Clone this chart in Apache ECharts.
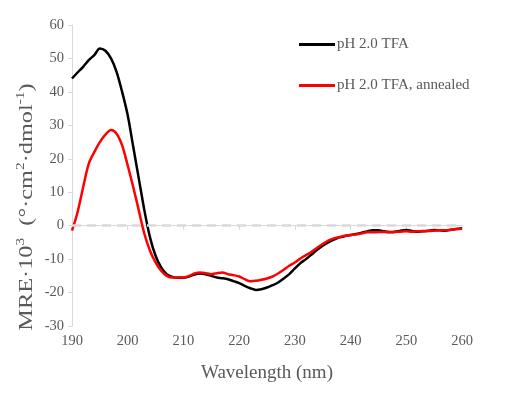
<!DOCTYPE html>
<html>
<head>
<meta charset="utf-8">
<script src="https://cdn.jsdelivr.net/npm/echarts@6/dist/echarts.min.js"></script>
<style>
  html, body { margin: 0; padding: 0; background: #fff; }
  #chart-container { width: 506px; height: 398px; }
</style>
</head>
<body>
<div id="chart-container"></div>
<script>
var wavelength = [];
for (var w = 190; w <= 260; w++) wavelength.push(w);

// MRE x 10^3, one value per nm (190..260)
var tfa = [
  44, 45.8, 47.5, 49.5, 51, 53, 52.3, 50, 46, 40,
  33, 23.5, 14, 4.5, -3.5, -9, -12.5, -14.5, -15.3, -15.6,
  -15.6, -15.2, -14.6, -14.3, -14.5, -15, -15.5, -15.7, -16, -16.6,
  -17.2, -18, -18.7, -19.2, -19, -18.5, -17.8, -17, -15.8, -14.5,
  -12.8, -11.2, -10, -8.6, -7.2, -6, -5, -4.2, -3.5, -3.1,
  -2.8, -2.5, -2.1, -1.7, -1.4, -1.4, -1.7, -1.9, -1.8, -1.5,
  -1.3, -1.6, -1.8, -1.7, -1.5, -1.3, -1.4, -1.5, -1.2, -1.0,
  -0.8
];
var tfaAnnealed = [
  -1.5, 4, 11.5, 18.5, 22, 25, 27.2, 28.6, 27.5, 24,
  18, 11.5, 4.5, -2.5, -7.5, -11, -13.5, -15, -15.5, -15.5,
  -15.5, -15, -14.3, -14, -14.2, -14.5, -14.2, -14, -14.5, -14.8,
  -15.2, -16, -16.6, -16.5, -16.2, -15.8, -15.2, -14.3, -13.2, -12,
  -11, -9.8, -8.8, -7.8, -6.6, -5.5, -4.5, -3.8, -3.4, -3,
  -2.8, -2.6, -2.3, -2, -2, -1.9, -1.9, -2, -1.9, -1.8,
  -1.7, -1.8, -1.7, -1.6, -1.6, -1.5, -1.4, -1.4, -1.2, -1.0,
  -0.9
];
var seriesNames = ["pH 2.0 TFA", "pH 2.0 TFA, annealed"];

function pairs(ys) {
  return ys.map(function (y, i) { return [wavelength[i], y]; });
}

var dom = document.getElementById("chart-container");
var myChart = echarts.init(dom, null, { renderer: "canvas" });

var font = "'Liberation Serif', 'Times New Roman', serif";
var grey = "#595959";
var axisGrey = "#d9d9d9";

var option = {
  animation: false,
  backgroundColor: "#fff",
  textStyle: { fontFamily: font },
  grid: { left: 72, right: 44, top: 25, bottom: 72 },
  legend: {
    orient: "vertical",
    left: 294,
    top: 32,
    itemGap: 26,
    itemWidth: 36,
    itemHeight: 3,
    icon: "rect",
    textStyle: { fontFamily: font, fontSize: 15, color: grey, padding: [0, 0, 0, -3] },
    data: seriesNames
  },
  graphic: [
    {
      type: "text",
      x: 26,
      y: 207,
      rotation: Math.PI / 2,
      scaleX: 1.28,
      silent: true,
      style: {
        text: "{n|MRE·10}{s|3}{n|  (°·cm}{s|2}{n|·dmol}{s|-1}{n|)}",
        align: "center",
        verticalAlign: "middle",
        fill: grey,
        fontFamily: font,
        fontSize: 19,
        rich: {
          n: { fontFamily: font, fontSize: 19, fill: grey, lineHeight: 22, verticalAlign: "bottom" },
          s: { fontFamily: font, fontSize: 12, fill: grey, lineHeight: 22, verticalAlign: "top" }
        }
      }
    }
  ],
  xAxis: {
    type: "value",
    min: 190,
    max: 260,
    interval: 10,
    name: "Wavelength (nm)",
    nameLocation: "middle",
    nameGap: 38,
    nameTextStyle: { fontFamily: font, fontSize: 19, color: grey },
    axisLine: { show: true, lineStyle: { color: axisGrey, width: 1 } },
    axisTick: { show: true, length: 4, lineStyle: { color: axisGrey } },
    axisLabel: { fontFamily: font, fontSize: 14.5, color: grey, margin: 8 },
    splitLine: { show: false }
  },
  yAxis: {
    type: "value",
    min: -30,
    max: 60,
    interval: 10,
    axisLine: { show: true, onZero: false, lineStyle: { color: axisGrey, width: 1 } },
    axisTick: { show: true, length: 4, lineStyle: { color: axisGrey } },
    axisLabel: { fontFamily: font, fontSize: 14.5, color: grey, margin: 8 },
    splitLine: { show: false }
  },
  series: [
    {
      name: seriesNames[0],
      type: "line",
      data: pairs(tfa),
      smooth: 0.3,
      symbol: "none",
      z: 3,
      lineStyle: { color: "#000000", width: 2.5 },
      itemStyle: { color: "#000000" },
      markLine: {
        silent: true,
        symbol: "none",
        label: { show: false },
        lineStyle: { color: "#d9d9d9", type: [9, 6], width: 2.5 },
        data: [{ yAxis: 0 }]
      }
    },
    {
      name: seriesNames[1],
      type: "line",
      data: pairs(tfaAnnealed),
      smooth: 0.3,
      symbol: "none",
      z: 4,
      lineStyle: { color: "#ff0000", width: 2.5 },
      itemStyle: { color: "#ff0000" }
    }
  ]
};

myChart.setOption(option);
window.addEventListener("resize", myChart.resize);
</script>
</body>
</html>
